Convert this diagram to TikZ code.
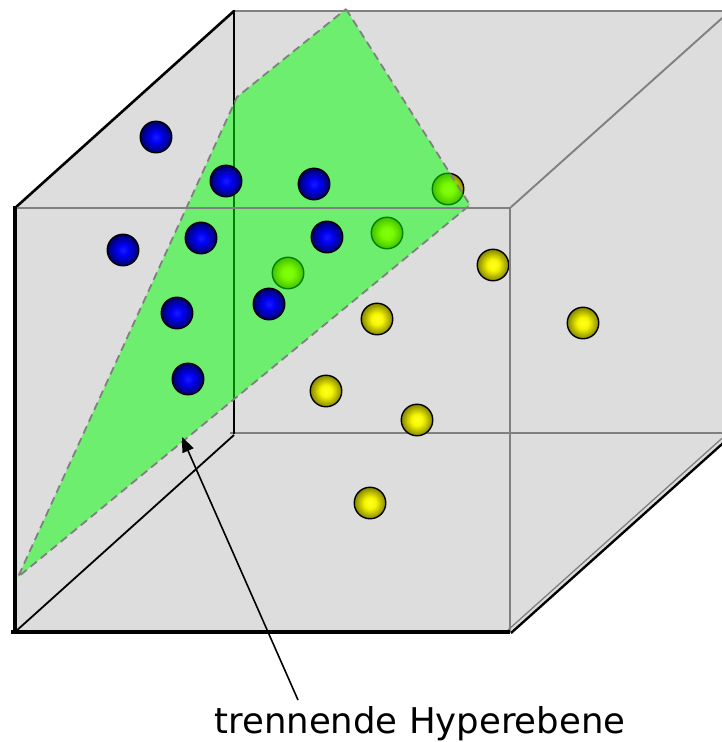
\documentclass[tikz,border=0pt]{standalone}
\usepackage{fontspec}
\setmainfont{DejaVu Sans}
\usetikzlibrary{arrows.meta}
\definecolor{boxgray}{RGB}{221,221,221}
\definecolor{edgegray}{RGB}{128,128,128}
\pgfdeclareradialshading{blueshade}{\pgfpointorigin}{rgb(0bp)=(0.1,0.1,1); rgb(9bp)=(0,0,0.96); rgb(25bp)=(0,0,0.40); rgb(50bp)=(0,0,0.40)}
\pgfdeclareradialshading{yellowshade}{\pgfpointorigin}{rgb(0bp)=(1,1,0.15); rgb(9bp)=(0.97,0.97,0); rgb(25bp)=(0.52,0.52,0); rgb(50bp)=(0.52,0.52,0)}
\tikzset{
  ballbase/.style={circle, draw=black, line width=1.4pt, minimum size=31.5pt, inner sep=0pt},
  blueball/.style={ballbase, shade, shading=blueshade},
  yellowball/.style={ballbase, shade, shading=yellowshade},
  grayedge/.style={draw=edgegray, line width=1.9pt},
  blackedge/.style={draw=black, line width=2.6pt},
  plane/.style={fill=green, fill opacity=0.5, draw=edgegray, draw opacity=1, dash pattern=on 8pt off 5pt, line width=1.8pt},
  pointer/.style={draw=black, line width=1.6pt, -{Triangle[length=15pt,width=12pt]}},
  label/.style={font=\fontsize{35.5}{40}\selectfont, inner sep=0pt, anchor=base}
}
\begin{document}
\begin{tikzpicture}[x=1pt,y=-1pt]
\useasboundingbox (0,0) rectangle (722,742);
\begin{scope}
\clip (0,0) rectangle (722,742);
% box body
\fill[boxgray] (15,208) -- (234,11) -- (730,11) -- (730,435) -- (510,632) -- (15,632) -- cycle;
% back face edges
\draw[grayedge] (234,11) -- (730,11);
\draw[grayedge] (230,433) -- (730,433);
% hidden/back black edges
\draw[blackedge] (15,208) -- (234,11);
\draw[black, line width=2.2pt] (234,10) -- (234,434);
\draw[black, line width=1.8pt] (15,632) -- (234,435);
% yellow balls (behind plane)
\node[yellowball] (y1) at (448,189) {};
\node[yellowball] (y2) at (387,233) {};
\node[yellowball] (y3) at (288,273) {};
\node[yellowball] (y4) at (493,265) {};
\node[yellowball] (y5) at (377,319) {};
\node[yellowball] (y6) at (583,323) {};
\node[yellowball] (y7) at (326,391) {};
\node[yellowball] (y8) at (417,420) {};
\node[yellowball] (y9) at (370,503) {};
% separating plane
\path[plane] (346,9) -- (470,205) -- (18,577) -- (237,97) -- cycle;
% front face edges
\draw[grayedge] (15,208) -- (510,208);
\draw[grayedge] (510,208) -- (510,632);
\draw[grayedge] (510,208) -- (730,11);
\draw[black, line width=2.4pt] (511,633) -- (731,436);
\draw[edgegray, line width=1.3pt] (508,630) -- (729,432);
\draw[black, line width=3.2pt] (15,206) -- (15,634);
\draw[black, line width=3.2pt] (11,632) -- (510,632);
% blue balls (in front of plane)
\node[blueball] (b1) at (156,137) {};
\node[blueball] (b2) at (226,181) {};
\node[blueball] (b3) at (314,184) {};
\node[blueball] (b4) at (123,250) {};
\node[blueball] (b5) at (201,238) {};
\node[blueball] (b6) at (327,237) {};
\node[blueball] (b7) at (177,313) {};
\node[blueball] (b8) at (188,379) {};
\node[blueball] (b9) at (269,304) {};
\end{scope}
% label and pointer
\node[label] (lab) at (420,733) {trennende Hyperebene};
\coordinate (tail) at (298,700);
\coordinate (tip) at (182,437);
\draw[pointer] (tail) -- (tip);
\end{tikzpicture}
\end{document}
